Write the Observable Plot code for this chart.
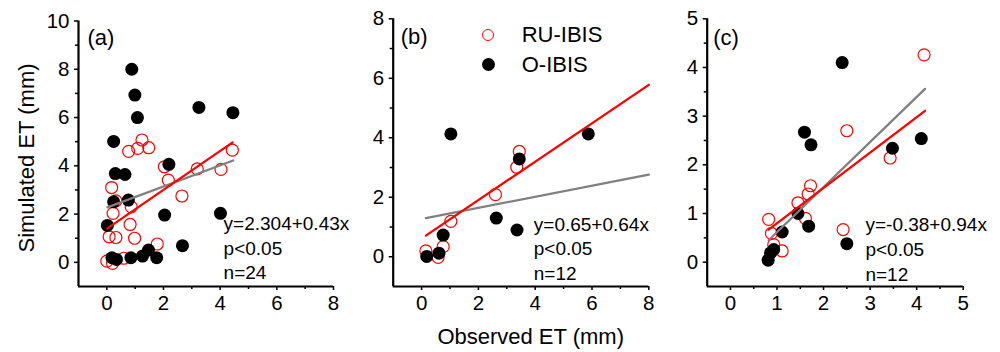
<!DOCTYPE html>
<html><head><meta charset="utf-8">
<script src="https://cdn.jsdelivr.net/npm/d3@7"></script>
<script src="https://cdn.jsdelivr.net/npm/@observablehq/plot@0.6"></script>
<style>
body{margin:0;background:#fff;}
#wrap{position:relative;width:1000px;height:352px;font-family:"Liberation Sans",Arial,sans-serif;color:#000;overflow:hidden;}
#wrap svg{position:absolute;top:0;overflow:visible;background:none;}
.t{position:absolute;white-space:nowrap;line-height:22px;font-size:22px;}
.sym{position:absolute;border-radius:50%;box-sizing:border-box;}
</style></head><body><div id="wrap"></div>
<script>
// ---- data ----
const seriesNames = ["RU-IBIS", "O-IBIS"];
const panelLabels = ["(a)", "(b)", "(c)"];
const xTitle = "Observed ET (mm)";
const yTitle = "Simulated ET (mm)";

// Panel (a)
const aRU = [[0,0.05],[0.2,-0.04],[0.6,0.17],[0.08,1.06],[0.32,1.03],[0.22,2.03],[0.17,3.1],[0.32,2.55],[0.86,2.3],[0.82,1.57],[0.98,1.0],[1.78,0.76],[0.77,4.6],[1.09,4.72],[1.24,5.07],[1.48,4.75],[2.03,3.96],[2.17,3.41],[2.65,2.75],[3.19,3.87],[4.03,3.85],[4.43,4.65]];
const aO = [[0.88,8.0],[0.99,6.93],[1.08,6.0],[3.25,6.42],[4.45,6.2],[0.24,5.01],[0.3,3.68],[0.64,3.64],[2.19,4.06],[0.24,2.51],[0.76,2.58],[0.02,1.53],[2.04,1.96],[4.01,2.03],[2.67,0.69],[0.18,0.19],[0.34,0.12],[0.85,0.19],[1.26,0.26],[1.47,0.51],[1.76,0.19]];
const aRedFit = [[0.02,1.41],[4.44,4.97]];
const aGrayFit = [[0.02,2.28],[4.46,4.22]];
const aStats = "y=2.304+0.43x\np<0.05\nn=24";

// Panel (b)
const bRU = [[0.15,0.2],[0.58,-0.02],[0.76,0.34],[1.03,1.19],[2.6,2.09],[3.35,3.01],[3.44,3.54]];
const bO = [[0.18,0.01],[0.61,0.12],[0.76,0.73],[1.03,4.13],[2.63,1.3],[3.36,0.9],[3.44,3.29],[5.87,4.13]];
const bRedFit = [[0.15,0.71],[8.0,5.78]];
const bGrayFit = [[0.15,1.3],[8.0,2.76]];
const bStats = "y=0.65+0.64x\np<0.05\nn=12";

// Panel (c)
const cRU = [[4.16,4.26],[2.5,2.7],[3.43,2.14],[1.72,1.57],[1.67,1.4],[1.45,1.22],[1.61,0.9],[0.82,0.88],[0.88,0.59],[0.93,0.36],[1.11,0.23],[2.42,0.67]];
const cO = [[2.4,4.1],[1.59,2.67],[1.73,2.41],[3.48,2.34],[4.1,2.54],[1.45,1.0],[1.68,0.74],[1.11,0.62],[2.5,0.38],[0.93,0.26],[0.86,0.19],[0.81,0.04]];
const cRedFit = [[0.82,0.67],[4.18,3.11]];
const cGrayFit = [[0.82,0.45],[4.18,3.56]];
const cStats = "y=-0.38+0.94x\np<0.05\nn=12";

// tick values
const aXTicks = [0,2,4,6,8], aXMinor = [1,3,5,7];
const aYTicks = [0,2,4,6,8,10], aYMinor = [1,3,5,7,9];
const bXTicks = [0,2,4,6,8], bXMinor = [1,3,5,7];
const bYTicks = [0,2,4,6,8], bYMinor = [1,3,5,7];
const cXTicks = [0,1,2,3,4,5], cXMinor = [0.5,1.5,2.5,3.5,4.5];
const cYTicks = [0,1,2,3,4,5], cYMinor = [0.5,1.5,2.5,3.5,4.5];

// stats text anchor (data units, start of text, middle line)
const statsPos = [[4.12,0.65],[3.95,0.31],[2.9,0.29]];

const wrap = document.getElementById("wrap");
const FONT = '"Liberation Sans", Arial, sans-serif';

function panel(o) {
  const fx = d => d[0], fy = d => d[1];
  const svg = Plot.plot({
    width: o.width, height: 352,
    marginLeft: o.mL, marginRight: o.mR, marginTop: o.mT, marginBottom: 66,
    x: {domain: o.xDom, label: null},
    y: {domain: o.yDom, label: null},
    style: {fontFamily: FONT, fontSize: "20px", color: "#000", background: "none", overflow: "visible"},
    marks: [
      Plot.axisX(o.xTicks, {tickSize: 4, tickPadding: 5, fontSize: 20.5, strokeWidth: 1.5}),
      Plot.axisX(o.xMinor, {tickSize: 3, tickFormat: () => "", strokeWidth: 1.5}),
      Plot.axisY(o.yTicks, {tickSize: 4, tickPadding: 5, fontSize: 20.5, strokeWidth: 1.5}),
      Plot.axisY(o.yMinor, {tickSize: 3, tickFormat: () => "", strokeWidth: 1.5}),
      Plot.ruleX([o.xDom[0]], {stroke: "#000", strokeWidth: 2.2}),
      Plot.ruleY([o.yDom[0]], {stroke: "#000", strokeWidth: 2.2}),
      Plot.dot(o.ru, {x: fx, y: fy, r: 6, stroke: "#ff0000", strokeWidth: 1.2, fill: "none"}),
      Plot.dot(o.ob, {x: fx, y: fy, r: 6.5, fill: "#000", stroke: "none"}),
      Plot.line(o.gray, {x: fx, y: fy, stroke: "#808080", strokeWidth: 2.3}),
      Plot.line(o.red, {x: fx, y: fy, stroke: "#ff0000", strokeWidth: 2.3}),
      Plot.text([o.stats], {x: o.sp[0], y: o.sp[1], text: d => d, textAnchor: "start", lineAnchor: "middle", fontSize: 19, lineHeight: 1.3, fill: "#000"}),
      Plot.text([o.label], {frameAnchor: "top-left", text: d => d, textAnchor: "start", lineAnchor: "middle", dx: o.ldx, dy: o.ldy, fontSize: 22, fill: "#000"})
    ]
  });
  svg.style.left = o.left + "px";
  wrap.appendChild(svg);
}

panel({left: 0, width: 340, mL: 78, mR: 7, mT: 20.5, xDom: [-1, 8], yDom: [-1, 10],
  xTicks: aXTicks, xMinor: aXMinor, yTicks: aYTicks, yMinor: aYMinor,
  ru: aRU, ob: aO, red: aRedFit, gray: aGrayFit, stats: aStats, sp: statsPos[0], label: panelLabels[0], ldx: 9, ldy: 17});
panel({left: 340, width: 320, mL: 52.7, mR: 11.7, mT: 18.3, xDom: [-1, 8], yDom: [-1, 8],
  xTicks: bXTicks, xMinor: bXMinor, yTicks: bYTicks, yMinor: bYMinor,
  ru: bRU, ob: bO, red: bRedFit, gray: bGrayFit, stats: bStats, sp: statsPos[1], label: panelLabels[1], ldx: 7.5, ldy: 18});
panel({left: 660, width: 340, mL: 46.7, mR: 37.3, mT: 18.3, xDom: [-0.5, 5], yDom: [-0.5, 5],
  xTicks: cXTicks, xMinor: cXMinor, yTicks: cYTicks, yMinor: cYMinor,
  ru: cRU, ob: cO, red: cRedFit, gray: cGrayFit, stats: cStats, sp: statsPos[2], label: panelLabels[2], ldx: 6, ldy: 19});

// legend (inside panel b)
function addDiv(cls, css, text) {
  const d = document.createElement("div");
  d.className = cls;
  Object.assign(d.style, css);
  if (text) d.textContent = text;
  wrap.appendChild(d);
}
addDiv("sym", {left: "482.3px", top: "29px", width: "12px", height: "12px", border: "1.2px solid #ff0000"});
addDiv("t", {left: "521.7px", top: "24.3px"}, seriesNames[0]);
addDiv("sym", {left: "482.2px", top: "57.8px", width: "13px", height: "13px", background: "#000"});
addDiv("t", {left: "521.7px", top: "53.6px"}, seriesNames[1]);

// axis titles
addDiv("t", {left: "530.7px", top: "325.7px", transform: "translateX(-50%)"}, xTitle);
addDiv("t", {left: "27px", top: "158px", transform: "translate(-50%,-50%) rotate(-90deg)"}, yTitle);
</script></body></html>
